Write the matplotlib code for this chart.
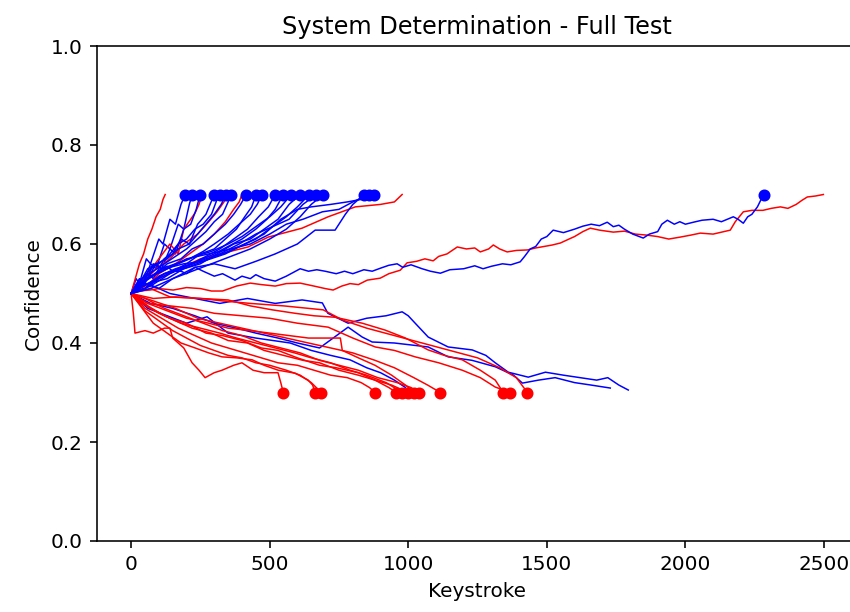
import matplotlib
matplotlib.use("Agg")
import matplotlib.pyplot as plt

# runs that ended up "blue" (reached 0.7 with a marker)
blue_up = [
    ([0, 18, 30, 55, 70, 100, 115, 140, 160, 180, 195], [.5, .53, .52, .57, .56, .61, .60, .65, .64, .68, .70]),
    ([0, 25, 40, 70, 90, 120, 140, 170, 190, 210, 220], [.5, .52, .51, .56, .55, .60, .59, .64, .63, .68, .70]),
    ([0, 30, 50, 80, 110, 140, 160, 190, 215, 235, 249], [.5, .53, .52, .56, .55, .59, .58, .63, .64, .67, .70]),
    ([0, 30, 60, 80, 120, 150, 180, 210, 240, 270, 285, 300], [.5, .51, .54, .53, .57, .58, .61, .60, .64, .66, .68, .70]),
    ([0, 40, 70, 100, 140, 170, 200, 230, 260, 290, 310, 321], [.5, .53, .55, .56, .58, .60, .61, .63, .64, .66, .69, .70]),
    ([0, 30, 60, 90, 130, 170, 210, 240, 270, 300, 325, 343], [.5, .52, .53, .56, .57, .59, .60, .62, .64, .66, .68, .70]),
    ([0, 40, 80, 120, 160, 200, 240, 270, 300, 330, 350, 361], [.5, .53, .545, .56, .575, .59, .61, .625, .645, .66, .685, .70]),
    ([0, 40, 90, 130, 180, 220, 260, 300, 340, 370, 395, 415], [.5, .52, .54, .56, .57, .59, .60, .62, .64, .66, .68, .70]),
    ([0, 50, 100, 150, 200, 250, 300, 340, 380, 410, 435, 451], [.5, .51, .53, .545, .56, .58, .59, .61, .63, .655, .675, .70]),
    ([0, 60, 110, 160, 210, 260, 300, 350, 390, 430, 455, 473], [.5, .53, .55, .56, .57, .585, .60, .62, .64, .66, .68, .70]),
    ([0, 50, 100, 160, 220, 270, 320, 370, 420, 460, 495, 520], [.5, .51, .535, .55, .56, .575, .59, .61, .63, .655, .675, .70]),
    ([0, 60, 120, 180, 240, 300, 350, 400, 450, 490, 520, 549], [.5, .52, .54, .55, .565, .58, .595, .61, .63, .65, .67, .70]),
    ([0, 50, 110, 170, 230, 290, 350, 400, 450, 500, 540, 578], [.5, .53, .545, .56, .575, .585, .60, .615, .635, .655, .675, .70]),
    ([0, 60, 130, 190, 250, 310, 370, 430, 480, 530, 570, 610], [.5, .52, .53, .55, .56, .58, .60, .61, .63, .65, .68, .70]),
    ([0, 70, 140, 200, 270, 330, 390, 450, 510, 560, 600, 643], [.5, .515, .54, .555, .57, .58, .595, .61, .635, .655, .675, .70]),
    ([0, 60, 120, 190, 260, 320, 390, 450, 510, 570, 620, 668], [.5, .53, .55, .56, .565, .58, .60, .62, .635, .65, .68, .70]),
    ([0, 70, 150, 220, 290, 360, 430, 500, 560, 610, 650, 693], [.5, .51, .53, .545, .56, .575, .59, .61, .63, .655, .68, .70]),
    ([0, 50, 100, 150, 231, 300, 375, 450, 520, 600, 664, 736, 773, 800, 841],
     [.5, .52, .51, .53, .553, .56, .55, .565, .58, .60, .628, .628, .66, .68, .70]),
    ([0, 60, 130, 200, 280, 360, 430, 500, 560, 620, 690, 750, 800, 859],
     [.5, .53, .55, .57, .58, .59, .60, .62, .64, .65, .665, .67, .685, .70]),
    ([0, 50, 120, 190, 260, 340, 410, 480, 540, 600, 650, 720, 780, 830, 877],
     [.5, .51, .54, .55, .565, .58, .60, .62, .65, .67, .675, .68, .685, .69, .70]),
    ([0, 20, 40, 60, 90, 110, 130, 150, 180, 200, 231, 260, 300, 330, 375, 400, 430, 450, 480, 520,
      560, 610, 640, 670, 700, 740, 770, 800, 840, 870, 899, 930, 960, 980, 1010, 1050, 1080, 1116,
      1150, 1200, 1240, 1270, 1300, 1340, 1370, 1404, 1420, 1440, 1460, 1480, 1500, 1523, 1560, 1600,
      1630, 1660, 1690, 1718, 1740, 1760, 1780, 1810, 1848, 1870, 1900, 1915, 1935, 1960, 1980, 2000,
      2029, 2060, 2100, 2130, 2173, 2190, 2209, 2225, 2240, 2260, 2282],
     [.5, .52, .53, .55, .56, .55, .555, .545, .545, .54, .553, .545, .535, .54, .527, .535, .53, .538, .53, .525,
      .535, .55, .545, .548, .545, .54, .545, .54, .548, .545, .551, .557, .56, .553, .558, .55, .545, .541,
      .548, .55, .556, .55, .555, .56, .558, .564, .575, .59, .595, .61, .615, .628, .623, .63,
      .636, .64, .637, .644, .635, .638, .63, .62, .612, .62, .625, .64, .648, .64, .645, .64,
      .644, .648, .65, .645, .655, .65, .642, .655, .66, .675, .70]),
]

# blue runs that drifted down (no marker)
blue_down = [
    ([0, 60, 140, 230, 320, 420, 520, 617, 690, 710, 783, 850, 920, 978, 1000, 1025, 1072, 1144, 1231,
      1280, 1314, 1361, 1433, 1495, 1560, 1620, 1680, 1720, 1760, 1794],
     [.5, .52, .50, .49, .48, .49, .48, .487, .481, .46, .44, .45, .455, .463, .455, .44, .412, .392, .386,
      .375, .36, .341, .331, .341, .335, .33, .325, .33, .315, .305]),
    ([0, 70, 150, 230, 300, 380, 450, 530, 600, 680, 783, 834, 870, 950, 1072, 1144, 1230, 1314, 1380,
      1412, 1470, 1530, 1600, 1660, 1729],
     [.5, .48, .47, .455, .44, .43, .42, .41, .40, .39, .432, .412, .402, .40, .392, .372, .365, .352, .335,
      .319, .325, .33, .32, .315, .309]),
    ([0, 60, 130, 200, 274, 350, 450, 574, 650, 720, 790, 850, 900, 950, 990],
     [.5, .47, .455, .44, .453, .42, .41, .40, .385, .375, .366, .35, .34, .325, .31]),
]

# runs that ended up "red" (reached 0.3 with a marker)
red_down = [
    ([0, 8, 14, 50, 80, 120, 140, 150, 190, 220, 245, 267, 300, 328, 370, 400, 440, 480, 530, 540, 549],
     [.5, .46, .42, .425, .42, .43, .43, .41, .39, .36, .345, .33, .34, .345, .355, .36, .345, .34, .34, .32, .30]),
    ([0, 40, 80, 130, 180, 231, 280, 328, 380, 437, 480, 531, 592, 639, 655, 664],
     [.5, .47, .44, .42, .40, .39, .38, .372, .37, .366, .355, .345, .339, .325, .315, .30]),
    ([0, 50, 100, 150, 200, 250, 300, 350, 400, 450, 500, 560, 610, 650, 686],
     [.5, .465, .445, .425, .41, .395, .385, .375, .37, .36, .355, .345, .335, .32, .30]),
    ([0, 50, 110, 170, 230, 290, 350, 410, 470, 530, 600, 660, 720, 780, 830, 860, 881],
     [.5, .47, .45, .43, .415, .40, .39, .38, .37, .36, .355, .345, .335, .33, .32, .31, .30]),
    ([0, 40, 100, 160, 220, 290, 350, 420, 480, 550, 620, 680, 750, 820, 880, 930, 957],
     [.5, .48, .46, .445, .43, .42, .405, .40, .385, .375, .365, .36, .345, .335, .325, .31, .30]),
    ([0, 60, 120, 180, 250, 320, 380, 450, 520, 590, 650, 720, 790, 850, 920, 978],
     [.5, .475, .455, .44, .43, .42, .41, .40, .39, .38, .37, .36, .345, .335, .32, .30]),
    ([0, 70, 140, 200, 270, 330, 400, 470, 530, 600, 680, 740, 820, 880, 940, 1000],
     [.5, .47, .45, .44, .42, .415, .405, .39, .385, .37, .355, .35, .34, .325, .315, .30]),
    ([0, 60, 130, 200, 280, 350, 430, 500, 570, 640, 700, 755, 762, 820, 880, 940, 990, 1022],
     [.5, .48, .465, .45, .44, .43, .425, .42, .415, .41, .41, .41, .385, .37, .355, .335, .315, .30]),
    ([0, 50, 120, 190, 260, 330, 400, 470, 540, 610, 680, 750, 820, 890, 960, 1010, 1040],
     [.5, .49, .47, .455, .44, .425, .415, .40, .39, .38, .365, .355, .345, .33, .32, .31, .30]),
    ([0, 80, 160, 240, 320, 400, 480, 560, 640, 720, 800, 880, 950, 1020, 1070, 1116],
     [.5, .485, .47, .45, .44, .43, .42, .41, .40, .39, .38, .365, .35, .33, .315, .30]),
    ([0, 80, 159, 250, 350, 430, 509, 592, 660, 736, 834, 917, 990, 1072, 1130, 1195, 1260, 1314, 1343],
     [.5, .49, .493, .49, .487, .475, .467, .46, .455, .452, .44, .426, .41, .386, .375, .366, .345, .325, .30]),
    ([0, 60, 140, 220, 300, 400, 500, 600, 711, 800, 881, 950, 1025, 1110, 1195, 1260, 1314, 1368],
     [.5, .48, .475, .47, .46, .455, .45, .44, .432, .41, .392, .385, .372, .36, .345, .33, .311, .30]),
    ([0, 70, 141, 250, 330, 430, 550, 693, 765, 850, 950, 1050, 1150, 1250, 1330, 1390, 1430],
     [.5, .51, .493, .49, .485, .48, .475, .467, .446, .43, .415, .40, .385, .37, .35, .33, .30]),
]

# red runs that drifted up (no marker)
red_up = [
    ([0, 15, 30, 45, 60, 75, 90, 105, 115, 123], [.5, .53, .56, .58, .61, .63, .655, .67, .69, .70]),
    ([0, 30, 60, 100, 140, 170, 190, 215, 231, 245, 256], [.5, .52, .54, .57, .60, .58, .63, .65, .663, .68, .70]),
    ([0, 40, 90, 140, 190, 240, 280, 310, 335, 350], [.5, .52, .55, .57, .60, .62, .645, .665, .685, .70]),
    ([0, 50, 100, 160, 210, 260, 300, 340, 370, 390, 400], [.5, .51, .54, .56, .58, .60, .62, .645, .67, .685, .70]),
    ([0, 100, 250, 422, 495, 617, 711, 809, 900, 950, 978],
     [.5, .53, .57, .594, .614, .632, .655, .675, .68, .685, .70]),
    ([0, 30, 68, 100, 152, 200, 250, 290, 330, 380, 430, 470, 520, 560, 610, 660, 700, 729, 760, 790,
      820, 852, 899, 930, 971, 996, 1030, 1060, 1090, 1110, 1140, 1177, 1210, 1240, 1260, 1290, 1307,
      1330, 1357, 1390, 1430, 1460, 1490, 1520, 1549, 1580, 1600, 1630, 1657, 1690, 1740, 1780, 1820,
      1860, 1900, 1940, 1982, 2020, 2054, 2100, 2162, 2180, 2209, 2240, 2280, 2310, 2343, 2370, 2400,
      2420, 2440, 2470, 2498],
     [.5, .505, .507, .51, .507, .512, .51, .505, .505, .515, .521, .518, .515, .52, .521, .515, .51, .507, .515, .52,
      .518, .527, .531, .54, .547, .562, .565, .57, .566, .575, .58, .594, .59, .592, .584, .59, .598,
      .59, .584, .587, .588, .592, .595, .598, .602, .61, .615, .625, .632, .628, .624, .626, .62,
      .618, .615, .61, .614, .618, .622, .62, .628, .645, .665, .668, .668, .672, .675, .672, .68,
      .688, .695, .697, .70]),
]

fig = plt.figure(figsize=(850 / 144, 612 / 144), dpi=144)
ax = fig.add_axes([96.5 / 850, 71 / 612, 761.5 / 850, 495 / 612])

lw = 0.75
# interleave colours so neither sits fully on top
n = max(len(blue_up), len(red_down))
for i in range(n):
    if i < len(red_down):
        ax.plot(red_down[i][0], red_down[i][1], color="red", lw=lw)
    if i < len(blue_up):
        ax.plot(blue_up[i][0], blue_up[i][1], color="blue", lw=lw)
    if i < len(red_up):
        ax.plot(red_up[i][0], red_up[i][1], color="red", lw=lw)
    if i < len(blue_down):
        ax.plot(blue_down[i][0], blue_down[i][1], color="blue", lw=lw)

for xs, ys in blue_up:
    ax.plot(xs[-1], ys[-1], "o", color="blue", ms=5)
for xs, ys in red_down:
    ax.plot(xs[-1], ys[-1], "o", color="red", ms=5)

ax.set_ylim(0, 1)
ax.set_xlabel("Keystroke")
ax.set_ylabel("Confidence")
ax.set_title("System Determination - Full Test")

fig.savefig("out.png", dpi=144)
